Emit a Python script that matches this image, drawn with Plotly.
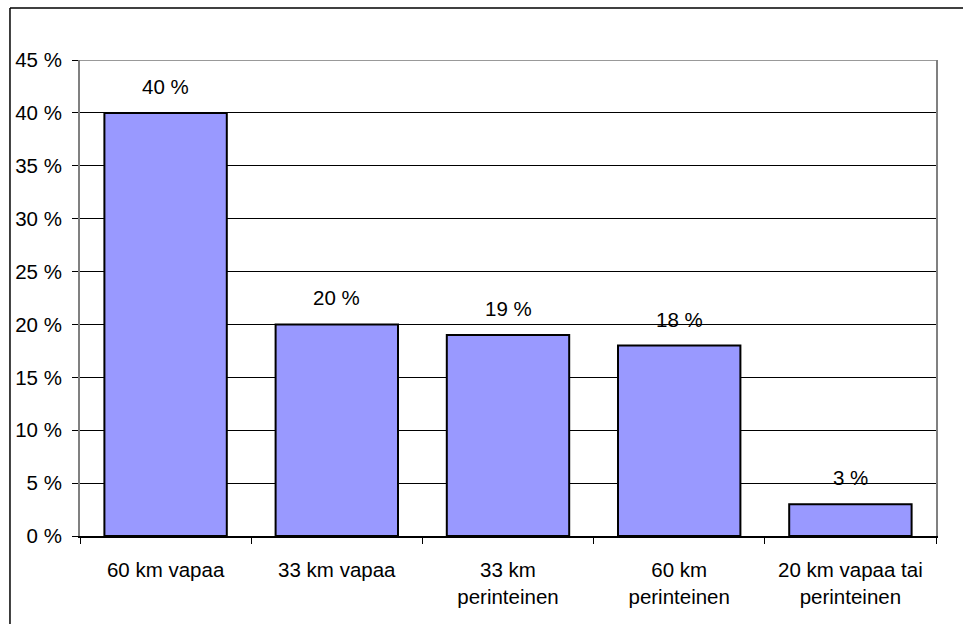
import plotly.graph_objects as go

categories = ["60 km vapaa", "33 km vapaa", "33 km<br>perinteinen", "60 km<br>perinteinen", "20 km vapaa tai<br>perinteinen"]
shares = [40, 20, 19, 18, 3]
y_ticks = [0, 5, 10, 15, 20, 25, 30, 35, 40, 45]
y_tick_labels = [f"{v} %" for v in y_ticks]

FONT = "Liberation Sans, Arial, sans-serif"
FS = 20.5

fig = go.Figure(
    go.Bar(
        x=categories,
        y=shares,
        marker=dict(color="#9999FF", line=dict(color="black", width=2)),
        hoverinfo="skip",
    )
)

for cat, val in zip(categories, shares):
    fig.add_annotation(
        x=cat, y=val, text=f"{val} %", showarrow=False,
        yanchor="bottom", yshift=13,
        font=dict(family=FONT, size=FS, color="black"),
    )

fig.update_layout(
    width=963, height=624,
    margin=dict(l=80, r=27, t=60, b=88),
    paper_bgcolor="white", plot_bgcolor="white",
    bargap=0.285,
    showlegend=False,
    font=dict(family=FONT, size=FS, color="black"),
)

fig.update_xaxes(
    type="category",
    tickson="boundaries",
    ticks="outside", ticklen=6, tickcolor="black", tickwidth=1,
    showline=True, linecolor="black", linewidth=1.5,
    showgrid=False,
    ticklabelstandoff=15,
    tickfont=dict(family=FONT, size=FS, color="black"),
)

fig.update_yaxes(
    range=[0, 45],
    tickvals=y_ticks, ticktext=y_tick_labels,
    ticks="outside", ticklen=6, tickcolor="black", tickwidth=1,
    showline=True, linecolor="#808080", linewidth=2, mirror=True,
    showgrid=True, gridcolor="black", gridwidth=1,
    zeroline=False,
    ticklabelstandoff=6,
    tickfont=dict(family=FONT, size=FS, color="black"),
)

# grey top edge of the plotting area
fig.add_shape(type="line", xref="paper", yref="y", x0=0, x1=1, y0=45, y1=45,
              line=dict(color="#999999", width=2), layer="above")

# outer chart frame (left and top edges)
fig.add_shape(type="line", xref="paper", yref="paper", x0=-0.0818, x1=-0.0818,
              y0=-0.2, y1=1.1092, line=dict(color="black", width=1.5))
fig.add_shape(type="line", xref="paper", yref="paper", x0=-0.0818, x1=1.04,
              y0=1.1092, y1=1.1092, line=dict(color="black", width=1.5))

fig.write_html("out.html")
